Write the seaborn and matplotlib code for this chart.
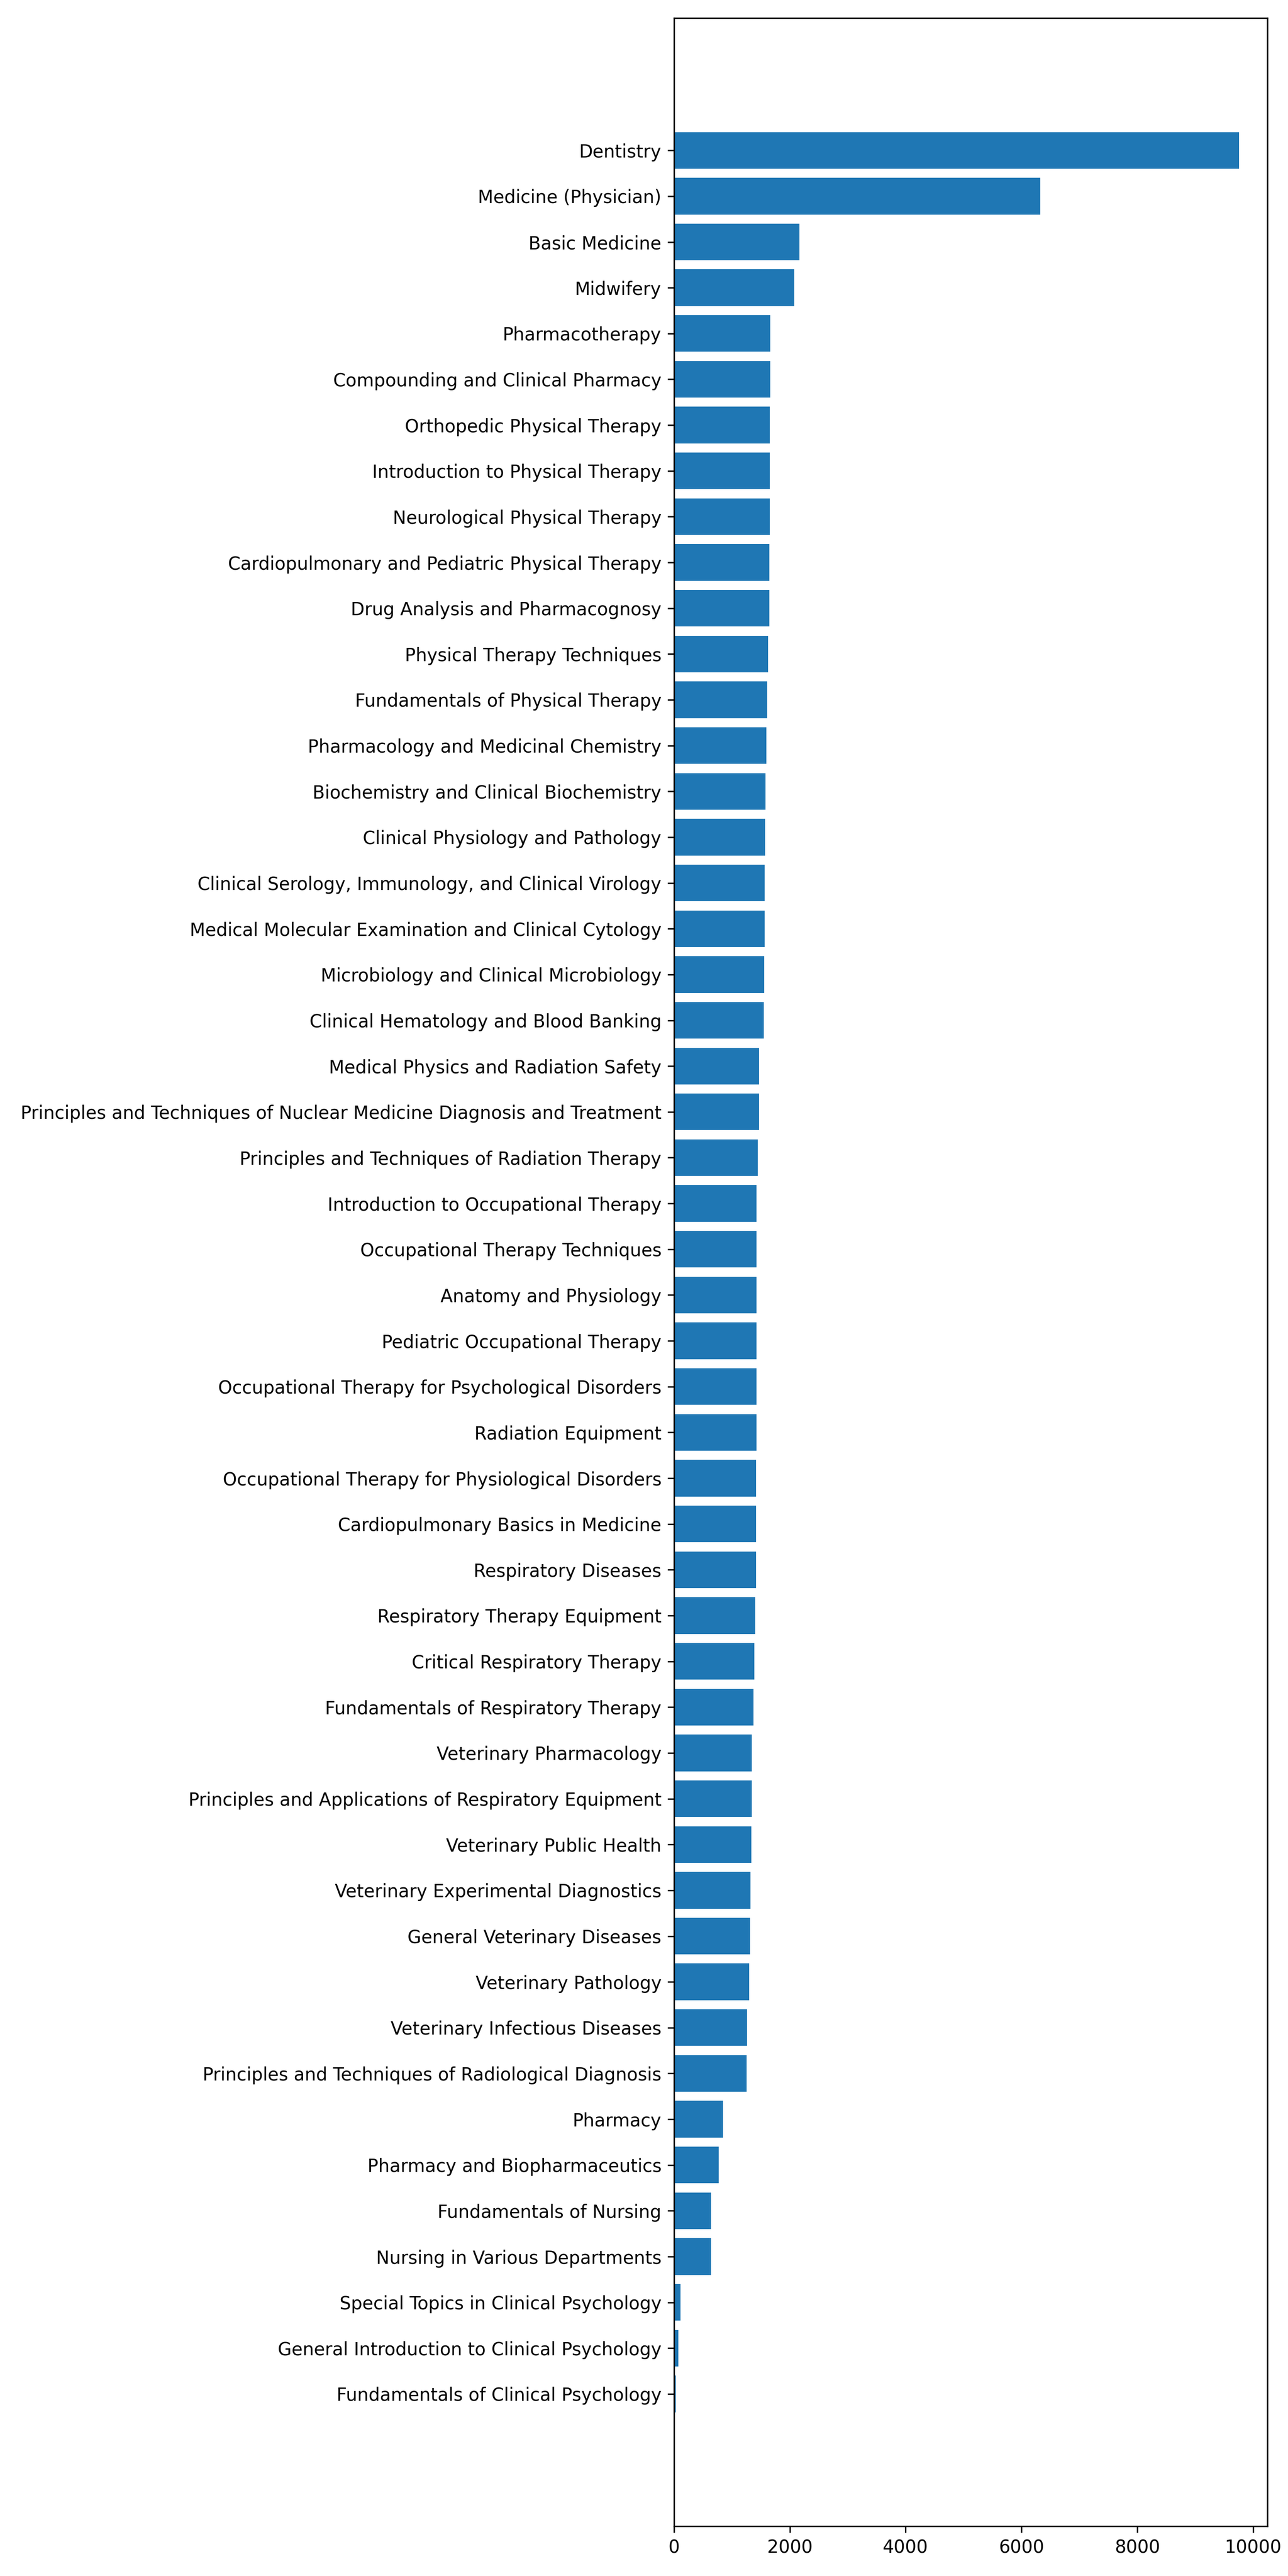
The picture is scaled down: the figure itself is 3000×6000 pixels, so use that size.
import matplotlib
matplotlib.use("Agg")
import matplotlib.pyplot as plt
import seaborn as sns

# course names, top to bottom
courses = [
    "Dentistry", "Medicine (Physician)", "Basic Medicine", "Midwifery",
    "Pharmacotherapy", "Compounding and Clinical Pharmacy",
    "Orthopedic Physical Therapy", "Introduction to Physical Therapy",
    "Neurological Physical Therapy", "Cardiopulmonary and Pediatric Physical Therapy",
    "Drug Analysis and Pharmacognosy", "Physical Therapy Techniques",
    "Fundamentals of Physical Therapy", "Pharmacology and Medicinal Chemistry",
    "Biochemistry and Clinical Biochemistry", "Clinical Physiology and Pathology",
    "Clinical Serology, Immunology, and Clinical Virology",
    "Medical Molecular Examination and Clinical Cytology",
    "Microbiology and Clinical Microbiology", "Clinical Hematology and Blood Banking",
    "Medical Physics and Radiation Safety",
    "Principles and Techniques of Nuclear Medicine Diagnosis and Treatment",
    "Principles and Techniques of Radiation Therapy",
    "Introduction to Occupational Therapy", "Occupational Therapy Techniques",
    "Anatomy and Physiology", "Pediatric Occupational Therapy",
    "Occupational Therapy for Psychological Disorders", "Radiation Equipment",
    "Occupational Therapy for Physiological Disorders",
    "Cardiopulmonary Basics in Medicine", "Respiratory Diseases",
    "Respiratory Therapy Equipment", "Critical Respiratory Therapy",
    "Fundamentals of Respiratory Therapy", "Veterinary Pharmacology",
    "Principles and Applications of Respiratory Equipment",
    "Veterinary Public Health", "Veterinary Experimental Diagnostics",
    "General Veterinary Diseases", "Veterinary Pathology",
    "Veterinary Infectious Diseases",
    "Principles and Techniques of Radiological Diagnosis", "Pharmacy",
    "Pharmacy and Biopharmaceutics", "Fundamentals of Nursing",
    "Nursing in Various Departments", "Special Topics in Clinical Psychology",
    "General Introduction to Clinical Psychology",
    "Fundamentals of Clinical Psychology",
]

counts = [
    9760, 6324, 2168, 2075,
    1663, 1663, 1655, 1655, 1655, 1648, 1648, 1626, 1611, 1596,
    1581, 1574, 1566, 1566, 1559, 1552, 1470, 1470, 1448, 1425,
    1425, 1425, 1425, 1425, 1425, 1418, 1418, 1418, 1403, 1388,
    1374, 1344, 1344, 1337, 1322, 1314, 1300, 1262, 1255, 847,
    773, 640, 640, 113, 76, 32,
]

fig, ax = plt.subplots(figsize=(10, 20), dpi=300)
sns.barplot(x=counts, y=courses, orient="h", color="#1f77b4",
            saturation=1, width=0.8, ax=ax)

# give the categorical axis the same 5% padding a plain barh would have
n = len(courses)
pad = 0.05 * (n - 1 + 0.8)
ax.set_ylim(n - 1 + 0.4 + pad, -0.4 - pad)
ax.set_xlabel(""); ax.set_ylabel("")
ax.tick_params(axis="both", labelsize=10)

fig.subplots_adjust(left=0.5233, right=0.984, top=0.993, bottom=0.0193)
plt.savefig("out.png", dpi=300)
plt.close()
